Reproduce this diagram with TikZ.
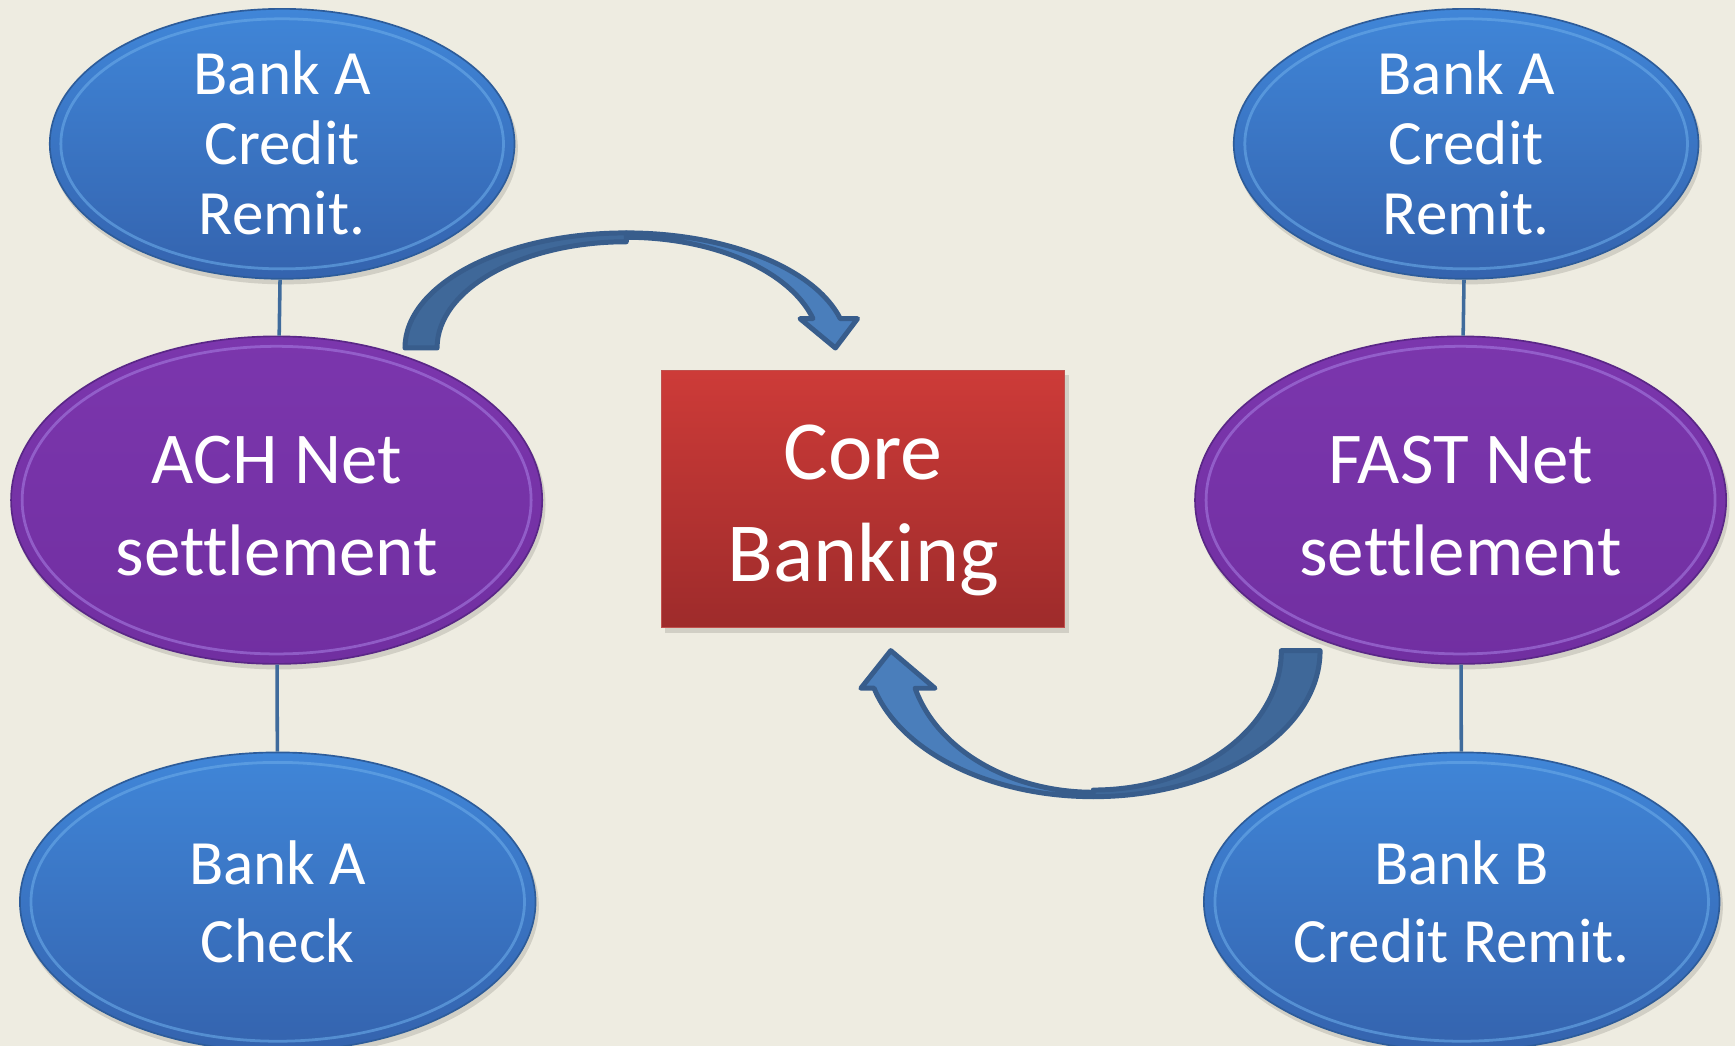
\documentclass[tikz,border=0pt]{standalone}
\usepackage{fontspec}
\setmainfont{Carlito}[Ligatures=CommonOff]
\usetikzlibrary{shapes.geometric}
\definecolor{bg}{HTML}{EEECE1}
\definecolor{bluetop}{HTML}{4086D8}
\definecolor{bluebot}{HTML}{3463AE}
\definecolor{blueedge}{HTML}{2D5C9A}
\definecolor{bluerimc}{HTML}{6AAAE8}
\definecolor{purptop}{HTML}{7B36AD}
\definecolor{purpbot}{HTML}{712FA1}
\definecolor{purpedge}{HTML}{5A2787}
\definecolor{purprimc}{HTML}{A47ADF}
\definecolor{redtop}{HTML}{CD3B38}
\definecolor{redbot}{HTML}{9E2B2B}
\definecolor{rededge}{HTML}{C0504D}
\definecolor{linkc}{HTML}{3F6B9C}
\definecolor{arrfr}{HTML}{4A7EBB}
\definecolor{arrbk}{HTML}{3F6899}
\definecolor{arrline}{HTML}{385D8C}
\tikzset{
  ell/.style={ellipse, inner sep=0pt, line width=1.5pt},
  blueell/.style={ell, draw=blueedge, top color=bluetop, bottom color=bluebot},
  purpleell/.style={ell, draw=purpedge, top color=purptop, bottom color=purpbot},
  bluering/.style={draw=bluerimc, line width=2.5pt, opacity=0.6},
  purplering/.style={draw=purprimc, line width=2.5pt, opacity=0.6},
  lbl/.style={text=white, align=center, inner sep=0pt},
  link/.style={draw=linkc, line width=3.2pt},
  arrfront/.style={fill=arrfr, draw=arrline, line width=4.5pt, line join=round},
  arrback/.style={fill=arrbk, draw=arrline, line width=4.5pt, line join=round},
  corebox/.style={rectangle, inner sep=0pt, draw=rededge, line width=1pt, top color=redtop, bottom color=redbot},
  shadowc/.style={fill=black, opacity=0.12},
}
\newcommand\bubble[6]{%
  \fill[shadowc] (#2+2,#3-4) ellipse[x radius=#4+1, y radius=#5+1];
  \node[#6ell, minimum width=2*#4, minimum height=2*#5] (#1) at (#2,#3) {};
  \draw[#6ring] (#2,#3) ellipse[x radius=#4-10, y radius=#5-9];
}
\begin{document}
\begin{tikzpicture}[x=1pt,y=1pt]
\useasboundingbox (0,0) rectangle (1568,945);
\fill[bg] (0,0) rectangle (1568,945);

% ellipses
\bubble{tl}{255}{815}{210}{122}{blue}
\bubble{ach}{250}{493}{240}{148}{purple}
\bubble{bl}{251}{130}{233}{135}{blue}
\bubble{tr}{1325}{815}{210}{122}{blue}
\bubble{fast}{1320}{493}{240}{148}{purple}
\bubble{br}{1321}{130}{233}{135}{blue}

% connectors
\draw[link] (tl) -- (ach);
\draw[link] (ach) -- (bl);
\draw[link] (tr) -- (fast);
\draw[link] (fast) -- (br);

% core banking box
\fill[shadowc] (601,373) rectangle (966,606);
\node[corebox, minimum width=364, minimum height=232] (core) at (780,494) {};

% arrow 1 (ACH -> Core)
\filldraw[arrfront] (566,734.5) arc[start angle=90, end angle=14.76, x radius=200, y radius=104]
  -- (775,657) -- (755,630.5) -- (723,657) -- (734.7,657.1)
  arc[start angle=15.4, end angle=90, x radius=175, y radius=100] -- cycle;
\filldraw[arrback] (366,630.5) arc[start angle=180, end angle=90, x radius=200, y radius=104]
  -- (566,726.5) arc[start angle=90, end angle=180, x radius=171, y radius=96] -- cycle;

% arrow 2 (FAST -> Core)
\filldraw[arrfront] (988,225) arc[start angle=270, end angle=194.9, x radius=205, y radius=132]
  -- (778,323) -- (805,357) -- (845,323) -- (827,323)
  arc[start angle=195.4, end angle=270, x radius=167, y radius=128] -- cycle;
\filldraw[arrback] (1193,357) arc[start angle=360, end angle=270, x radius=205, y radius=132]
  -- (988,231) arc[start angle=270, end angle=360, x radius=170, y radius=126] -- cycle;

% texts
\node[lbl, font=\fontsize{57}{63}\selectfont] (tlt) at (255,816) {Bank A\\Credit\\Remit.};
\node[lbl, font=\fontsize{57}{63}\selectfont] (trt) at (1325,816) {Bank A\\Credit\\Remit.};
\node[lbl, font=\fontsize{66}{83}\selectfont] (acht) at (250,488) {ACH Net\\settlement};
\node[lbl, font=\fontsize{66}{83}\selectfont] (fastt) at (1320,488) {FAST Net\\settlement};
\node[lbl, font=\fontsize{57}{70}\selectfont] (blt) at (251,130) {Bank A\\Check};
\node[lbl, font=\fontsize{57}{70}\selectfont] (brt) at (1321,130) {Bank B\\Credit Remit.};
\node[lbl, font=\fontsize{76}{92}\selectfont] (coret) at (780,483.5) {Core\\Banking};
\end{tikzpicture}
\end{document}
